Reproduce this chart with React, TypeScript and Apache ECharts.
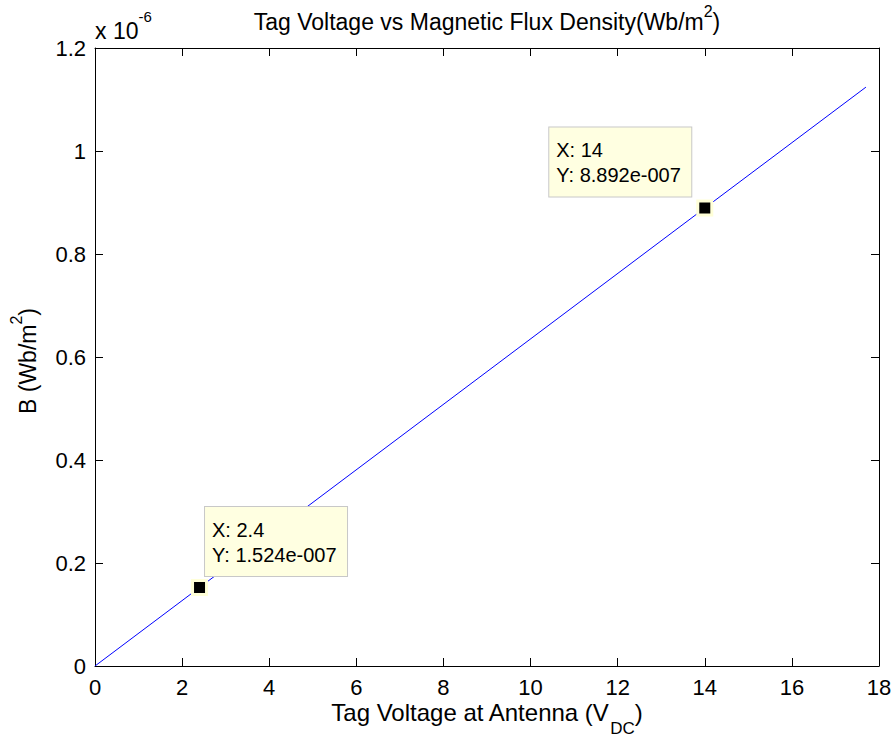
import React, { useEffect, useRef } from "react";
import * as echarts from "echarts";

// Data (B in units of 1e-6 Wb/m^2)
const voltage = [0, 2.4, 14, 17.7];
const fluxE6 = [0, 0.1524, 0.8892, 1.124];
const tipVoltage = [2.4, 14];
const tipFluxE6 = [0.1524, 0.8892];
const tipLines = [
  ["X: 2.4", "Y: 1.524e-007"],
  ["X: 14", "Y: 8.892e-007"],
];
const xMin = 0, xMax = 18, xStep = 2;
const yMin = 0, yMax = 1.2, yStep = 0.2;

const FONT = "Arial, 'Liberation Sans', Helvetica, sans-serif";
const W = 894, H = 740;
const G = { left: 95, top: 48, right: 879, bottom: 666 };

type Part = { t: string; size: number; dy: number };

function textWidth(t: string, size: number) {
  const c = document.createElement("canvas").getContext("2d")!;
  c.font = `${size}px ${FONT}`;
  return c.measureText(t).width;
}

function richGroup(parts: Part[], x: number, y: number, align: "center" | "left", rotation = 0) {
  const widths = parts.map((p) => textWidth(p.t, p.size));
  const total = widths.reduce((a, b) => a + b, 0);
  let cur = align === "center" ? -total / 2 : 0;
  const children = parts.map((p, i) => {
    const el = {
      type: "text",
      x: cur,
      y: p.dy,
      style: {
        text: p.t,
        fontSize: p.size,
        fontFamily: FONT,
        fill: "#000",
        textAlign: "left",
        textVerticalAlign: "middle",
      },
    };
    cur += widths[i];
    return el;
  });
  return { type: "group", x, y, rotation, children };
}

export default function App() {
  const ref = useRef<HTMLDivElement>(null);
  useEffect(() => {
    if (!ref.current) return;
    const chart = echarts.init(ref.current, null, { renderer: "svg" });
    const axisCommon = {
      type: "value",
      axisLine: { show: true, onZero: false, lineStyle: { color: "#000", width: 1 } },
      axisTick: { show: true, inside: true, length: 8, lineStyle: { color: "#000", width: 1 } },
      splitLine: { show: false },
    };
    const xAx = { ...axisCommon, min: xMin, max: xMax, interval: xStep };
    const yAx = { ...axisCommon, min: yMin, max: yMax, interval: yStep };
    const option: any = {
      animation: false,
      backgroundColor: "#fff",
      grid: {
        left: G.left,
        top: G.top,
        right: W - G.right,
        bottom: H - G.bottom,
        containLabel: false,
        outerBoundsMode: "none",
      },
      xAxis: [
        {
          ...xAx,
          position: "bottom",
          axisLabel: { show: true, fontSize: 22, fontFamily: FONT, color: "#000", margin: 10 },
        },
        { ...xAx, position: "top", axisLabel: { show: false } },
      ],
      yAxis: [
        {
          ...yAx,
          position: "left",
          axisLabel: {
            show: true,
            fontSize: 22,
            fontFamily: FONT,
            color: "#000",
            margin: 9,
            padding: [6, 0, 0, 0],
            formatter: (v: number) => String(Math.round(v * 10) / 10),
          },
        },
        { ...yAx, position: "right", axisLabel: { show: false } },
      ],
      series: [
        {
          type: "line",
          xAxisIndex: 0,
          yAxisIndex: 0,
          data: voltage.map((v, i) => [v, fluxE6[i]]),
          showSymbol: false,
          symbol: "none",
          lineStyle: { color: "#0000ff", width: 1 },
          z: 2,
        },
        {
          type: "scatter",
          xAxisIndex: 0,
          yAxisIndex: 0,
          symbol: "rect",
          symbolSize: 14,
          itemStyle: { color: "#000", borderColor: "#ffffd8", borderWidth: 3, opacity: 1 },
          z: 5,
          label: {
            show: true,
            fontSize: 20,
            fontFamily: FONT,
            color: "#000",
            lineHeight: 25,
            backgroundColor: "#ffffe1",
            borderColor: "#c8c8c8",
            borderWidth: 1,
            padding: [10, 7, 9, 7],
            width: 128,
            align: "left",
            verticalAlign: "top",
          },
          data: tipVoltage.map((v, i) => ({
            value: [v, tipFluxE6[i]],
            label: {
              position: i === 0 ? [14, -72] : [-147, -72],
              formatter: tipLines[i].join("\n"),
            },
          })),
        },
      ],
      graphic: [
        richGroup(
          [
            { t: "Tag Voltage vs Magnetic Flux Density(Wb/m", size: 23, dy: 0 },
            { t: "2", size: 16, dy: -11 },
            { t: ")", size: 23, dy: 0 },
          ],
          (G.left + G.right) / 2,
          22,
          "center"
        ),
        richGroup(
          [
            { t: "Tag Voltage at Antenna (V", size: 24, dy: 0 },
            { t: "DC", size: 17, dy: 16 },
            { t: ")", size: 24, dy: 0 },
          ],
          (G.left + G.right) / 2,
          712.5,
          "center"
        ),
        richGroup(
          [
            { t: "B (Wb/m", size: 23, dy: 0 },
            { t: "2", size: 16, dy: -11 },
            { t: ")", size: 23, dy: 0 },
          ],
          27.5,
          361,
          "center",
          Math.PI / 2
        ),
        richGroup(
          [
            { t: "x 10", size: 23, dy: 0 },
            { t: "-6", size: 15, dy: -14.5 },
          ],
          95,
          30.5,
          "left"
        ),
      ],
    };
    chart.setOption(option);
    return () => chart.dispose();
  }, []);
  return (
    <div
      ref={ref}
      style={{ position: "fixed", left: 0, top: 0, width: W, height: H, background: "#fff" }}
    />
  );
}
